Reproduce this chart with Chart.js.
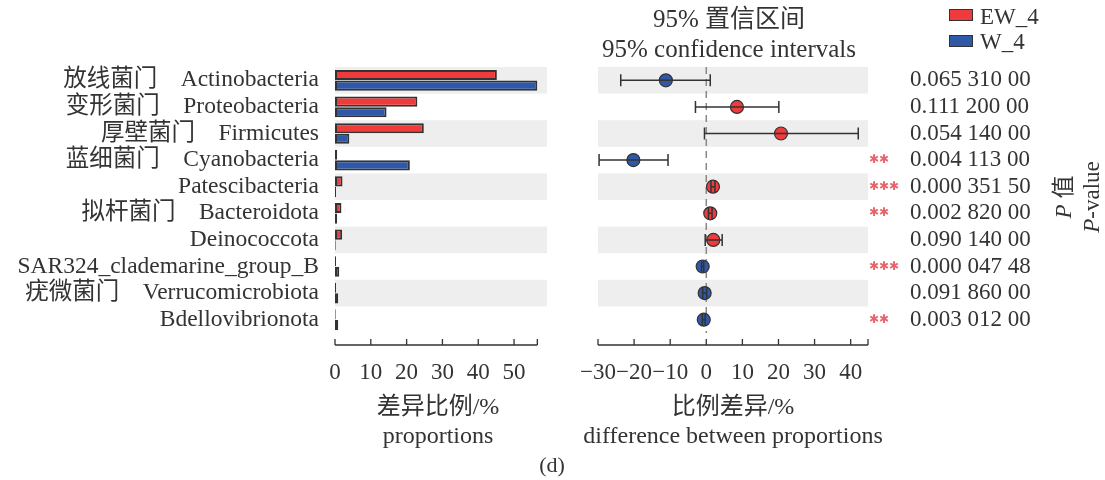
<!DOCTYPE html>
<html>
<head>
<meta charset="utf-8">
<script src="https://cdn.jsdelivr.net/npm/chart.js@4"></script>
<style>
  body { margin: 0; width: 1105px; height: 480px; background: #fff; position: relative; overflow: hidden;
         font-family: 'Liberation Serif', 'Noto Sans CJK SC', serif; color: #333; }
  canvas { position: absolute; top: 0; }
  #left { left: 0; }
  #right { left: 560px; }
  .t { position: absolute; white-space: nowrap; }
  .c { position: absolute; white-space: nowrap; transform: translateX(-50%); text-align: center; font-size: 24px; line-height: 29px; }
  .box { position: absolute; width: 24px; height: 12px; box-sizing: border-box; border: 1.5px solid #333; }
  .rot { position: absolute; transform: translate(-50%, -50%) rotate(-90deg); white-space: nowrap; font-size: 23px; }
</style>
</head>
<body>
<canvas id="left" width="560" height="480"></canvas>
<canvas id="right" width="545" height="480"></canvas>

<div class="c" style="left:729px;top:4px;font-size:25px;line-height:30px">95% 置信区间<br>95% confidence intervals</div>

<div class="c" style="left:438px;top:392px">差异比例/%<br>proportions</div>
<div class="c" style="left:733px;top:392px">比例差异/%<br>difference between proportions</div>

<div class="box" style="left:949px;top:9px;background:#ef3b3b"></div>
<div class="t" style="left:980px;top:3px;font-size:23px;line-height:28px">EW_4</div>
<div class="box" style="left:949px;top:35px;background:#2f58a8"></div>
<div class="t" style="left:980px;top:28px;font-size:23px;line-height:28px">W_4</div>

<div class="rot" style="left:1061px;top:197px"><i>P</i> 值</div>
<div class="rot" style="left:1092px;top:197px"><i>P</i>-value</div>

<div class="t" style="left:552px;top:465px;transform:translate(-50%,-50%);font-size:22px">(d)</div>

<script>
// 门水平物种, 从上到下
const categories = ['Actinobacteria', 'Proteobacteria', 'Firmicutes', 'Cyanobacteria', 'Patescibacteria',
  'Bacteroidota', 'Deinococcota', 'SAR324_clademarine_group_B', 'Verrucomicrobiota', 'Bdellovibrionota'];
const cnNames = ['放线菌门', '变形菌门', '厚壁菌门', '蓝细菌门', '', '拟杆菌门', '', '', '疣微菌门', ''];

// 各组比例 (%)
const ew4 = [45.2, 23.0, 24.8, 0.6, 2.1, 1.8, 2.0, 0.3, 0.3, 0.2];
const w4 = [56.5, 14.4, 4.0, 20.9, 0.3, 0.6, 0.2, 1.2, 0.9, 0.9];

// 比例差异及 95% 置信区间
const diff = [-11.2, 8.5, 20.7, -20.2, 1.85, 1.1, 1.95, -1.0, -0.45, -0.7];
const ciLow = [-23.7, -3.0, -0.5, -29.7, 1.3, 0.6, -0.3, -1.3, -1.0, -1.1];
const ciHigh = [1.1, 20.1, 42.1, -10.6, 2.4, 1.6, 4.4, -0.7, 0.1, -0.3];

const pValues = [0.06531, 0.1112, 0.05414, 0.004113, 0.0003515, 0.00282, 0.09014, 0.00004748, 0.09186, 0.003012];

const RED = '#ef3b3b';
const BLUE = '#2f58a8';
const INK = '#333';
const FONT = "'Liberation Serif', 'Noto Sans CJK SC', serif";

const rowLabels = categories.map((c, i) => cnNames[i] ? cnNames[i] + '    ' + c : c);
const fmtP = p => {
  const d = p.toFixed(8).split('.')[1];
  return '0.' + d.slice(0, 3) + ' ' + d.slice(3, 6) + ' ' + d.slice(6);
};
const stars = p => p < 0.001 ? '✱✱✱' : p < 0.01 ? '✱✱' : p < 0.05 ? '✱' : '';
const minus = v => v < 0 ? '\u2212' + Math.abs(v) : '' + v;

// 灰白相间的背景条
const bands = {
  id: 'bands',
  beforeDatasetsDraw(chart) {
    const {ctx, chartArea} = chart;
    const y = chart.scales.y;
    const half = (y.getPixelForValue(1) - y.getPixelForValue(0)) / 2;
    ctx.save();
    ctx.fillStyle = '#eeeeee';
    for (let i = 0; i < categories.length; i += 2) {
      const c = y.getPixelForValue(i);
      ctx.fillRect(chartArea.left, c - half, chartArea.width, half * 2);
    }
    ctx.restore();
  }
};

// x 轴画在图区下方一点
const lowAxis = {
  id: 'lowAxis',
  afterDraw(chart, args, opts) {
    const {ctx, chartArea} = chart;
    const x = chart.scales.x;
    const yy = chartArea.bottom + 12;
    const end = opts.end != null ? opts.end : x.max;
    ctx.save();
    ctx.strokeStyle = INK;
    ctx.lineWidth = 1.3;
    ctx.beginPath();
    ctx.moveTo(x.getPixelForValue(x.min), yy);
    ctx.lineTo(x.getPixelForValue(end), yy);
    x.ticks.map(t => t.value).concat([end]).forEach(v => {
      const px = x.getPixelForValue(v);
      ctx.moveTo(px, yy);
      ctx.lineTo(px, yy - 6);
    });
    ctx.stroke();
    ctx.restore();
  }
};

const noGrid = { display: false, drawTicks: false };
const xTicks = { stepSize: 10, includeBounds: false, padding: 26, maxRotation: 0, minRotation: 0, autoSkip: false,
  color: INK, font: { family: FONT, size: 23 }, callback: minus };
// 底部轴固定高度, 标签溢出不挤占图区
const fixX = s => { s.height = 147; s.paddingLeft = 0; s.paddingRight = 0; };

new Chart(document.getElementById('left'), {
  type: 'bar',
  data: {
    labels: rowLabels,
    datasets: [
      { label: 'EW_4', data: ew4, backgroundColor: RED },
      { label: 'W_4', data: w4, backgroundColor: BLUE }
    ]
  },
  options: {
    indexAxis: 'y',
    responsive: false,
    animation: false,
    layout: { padding: { top: 67, right: 13, left: 0, bottom: 0 } },
    datasets: { bar: { borderColor: INK, borderWidth: 2, borderSkipped: false, categoryPercentage: 0.8, barPercentage: 0.95 } },
    plugins: { legend: { display: false }, tooltip: { enabled: false }, lowAxis: { end: Math.max(...ew4, ...w4) } },
    scales: {
      x: {
        min: 0, max: 59.2,
        grid: noGrid, border: { display: false },
        ticks: xTicks,
        afterFit: fixX
      },
      y: {
        grid: noGrid, border: { display: false },
        ticks: { padding: 16, autoSkip: false, color: INK, font: { family: FONT, size: 23.5 } },
        afterFit: s => { s.width = 335; }
      }
    }
  },
  plugins: [bands, lowAxis]
});

// 误差线, 画在点的上面
const errBars = {
  id: 'errBars',
  afterDatasetsDraw(chart) {
    const {ctx} = chart;
    const x = chart.scales.x, y = chart.scales.y;
    ctx.save();
    ctx.strokeStyle = INK;
    ctx.lineWidth = 1.5;
    ctx.beginPath();
    categories.forEach((c, i) => {
      const py = y.getPixelForValue(i);
      const a = x.getPixelForValue(ciLow[i]), b = x.getPixelForValue(ciHigh[i]);
      ctx.moveTo(a, py); ctx.lineTo(b, py);
      ctx.moveTo(a, py - 6); ctx.lineTo(a, py + 6);
      ctx.moveTo(b, py - 6); ctx.lineTo(b, py + 6);
    });
    ctx.stroke();
    ctx.restore();
  }
};

const zeroLine = {
  id: 'zeroLine',
  beforeDatasetsDraw(chart) {
    const {ctx, chartArea} = chart;
    const px = chart.scales.x.getPixelForValue(0);
    ctx.save();
    ctx.strokeStyle = '#888';
    ctx.lineWidth = 1.5;
    ctx.setLineDash([7, 5]);
    ctx.beginPath();
    ctx.moveTo(px, chartArea.top);
    ctx.lineTo(px, chartArea.bottom);
    ctx.stroke();
    ctx.restore();
  }
};

new Chart(document.getElementById('right'), {
  type: 'line',
  data: {
    labels: categories,
    datasets: [{
      data: categories.map((c, i) => ({ x: diff[i], y: c })),
      showLine: false,
      pointRadius: 6.5,
      pointBorderWidth: 1.2,
      pointBorderColor: INK,
      pointBackgroundColor: diff.map(d => d > 0 ? RED : BLUE)
    }]
  },
  options: {
    responsive: false,
    animation: false,
    layout: { padding: { top: 67, left: 38, right: 0, bottom: 0 } },
    plugins: { legend: { display: false }, tooltip: { enabled: false } },
    scales: {
      x: {
        type: 'linear', min: -30, max: 44.8,
        grid: noGrid, border: { display: false },
        ticks: xTicks,
        afterFit: fixX
      },
      y: { type: 'category', labels: categories, offset: true, display: false },
      sig: {
        type: 'category', position: 'right', offset: true, weight: 1,
        labels: pValues.map(stars),
        grid: noGrid, border: { display: false },
        ticks: { padding: 1, autoSkip: false, color: '#e8646c', font: { family: 'DejaVu Sans', size: 12, weight: 'bold' } },
        afterFit: s => { s.width = 40; }
      },
      pv: {
        type: 'category', position: 'right', offset: true, weight: 2,
        labels: pValues.map(fmtP),
        grid: noGrid, border: { display: false },
        ticks: { padding: 2, autoSkip: false, color: INK, font: { family: FONT, size: 23 } },
        afterFit: s => { s.width = 197; }
      }
    }
  },
  plugins: [bands, zeroLine, errBars, lowAxis]
});
</script>
</body>
</html>
